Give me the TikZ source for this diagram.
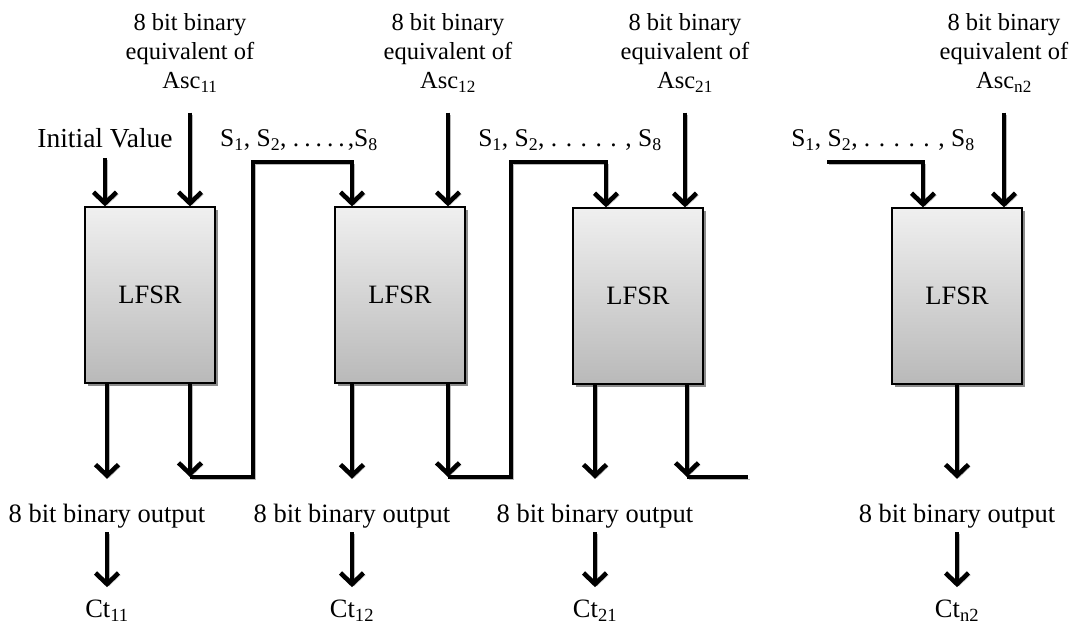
\documentclass[tikz,border=0pt]{standalone}
\usepackage{fontspec}
\setmainfont{Liberation Serif}
\usetikzlibrary{arrows.meta,shadows}

\tikzset{
  lfsr/.style={draw, line width=1.2pt, minimum width=130pt, minimum height=176pt,
    top color=gray!12, bottom color=gray!55,
    drop shadow={shadow xshift=3pt, shadow yshift=-3pt, fill=black!45, opacity=1},
    font=\fontsize{26.5}{30}\selectfont},
  lbl/.style={align=center, inner sep=1pt, font=\fontsize{26.5}{30}\selectfont},
  asc/.style={lbl, font=\fontsize{24.5}{29}\selectfont},
  seq/.style={lbl, font=\fontsize{25.5}{29}\selectfont},
  wire/.style={line width=4.6pt,
    preaction={draw=gray!55, transform canvas={shift={(2pt,-2pt)}}}},
  arr/.style={wire, -{Straight Barb[length=11pt,width=23pt]}},
}

\begin{document}
\begin{tikzpicture}[x=1pt,y=-1pt]
  \useasboundingbox (0,0) rectangle (1078,625);

  % the four registers
  \node[lfsr] (r11) at (150,295) {LFSR};
  \node[lfsr] (r12) at (400,295) {LFSR};
  \node[lfsr] (r21) at (638,296) {LFSR};
  \node[lfsr] (rn2) at (957,296) {LFSR};

  % inputs from above
  \node[lbl, font=\fontsize{27.5}{30}\selectfont] (init) at (105,138) {Initial Value};
  \node[asc] (a11) at (190,53) {8 bit binary\\equivalent of\\Asc\textsubscript{11}};
  \node[asc] (a12) at (448,53) {8 bit binary\\equivalent of\\Asc\textsubscript{12}};
  \node[asc] (a21) at (685,53) {8 bit binary\\equivalent of\\Asc\textsubscript{21}};
  \node[asc] (an2) at (1004,53) {8 bit binary\\equivalent of\\Asc\textsubscript{n2}};
  \node[seq] (s12) at (299,140) {S\textsubscript{1}, S\textsubscript{2}, .\hspace{5pt}.\hspace{5pt}.\hspace{5pt}.\hspace{5pt}.\hspace{3pt},S\textsubscript{8}};
  \node[seq] (s21) at (570,140) {S\textsubscript{1}, S\textsubscript{2}, . . . . . , S\textsubscript{8}};
  \node[seq] (sn2) at (883,140) {S\textsubscript{1}, S\textsubscript{2}, . . . . . , S\textsubscript{8}};

  \draw[arr, shorten <=9pt] (init.south) -- (init.south |- r11.north);
  \foreach \a/\r in {a11/r11, a12/r12, a21/r21, an2/rn2}
    \draw[arr, shorten <=19pt] (\a.south) -- (\a.south |- \r.north);

  % outputs and cipher text
  \foreach \r/\x/\s in {r11/107/11, r12/352/12, r21/595/21, rn2/957/n2} {
    \node[lbl] (out\s) at (\x,516) {8 bit binary output};
    \node[lbl] (ct\s) at (\x,611) {Ct\textsubscript{\s}};
    \draw[arr, shorten >=24pt] (\r.south -| out\s) -- (out\s.north);
    \draw[arr, shorten <=3pt, shorten >=12pt] (out\s.south) -- (ct\s.north);
  }

  % S_1..S_8 passed on to the next register
  \coordinate (f11) at (190,477);
  \coordinate (f12) at (448,477);
  \coordinate (f21) at (687,477);
  \coordinate (i12) at (352,162);
  \coordinate (i21) at (606,162);
  \coordinate (in2) at (923,162);

  \draw[arr] (r11.south -| f11) -- (f11);
  \draw[arr] (f11) -| (253,162) -- (i12) -- (i12 |- r12.north);
  \draw[arr] (r12.south -| f12) -- (f12);
  \draw[arr] (f12) -| (511,162) -- (i21) -- (i21 |- r21.north);
  \draw[arr] (r21.south -| f21) -- (f21);
  \draw[wire] (f21) -- ++(61,0);
  \draw[arr] (827,162) -- (in2) -- (in2 |- rn2.north);
\end{tikzpicture}
\end{document}
